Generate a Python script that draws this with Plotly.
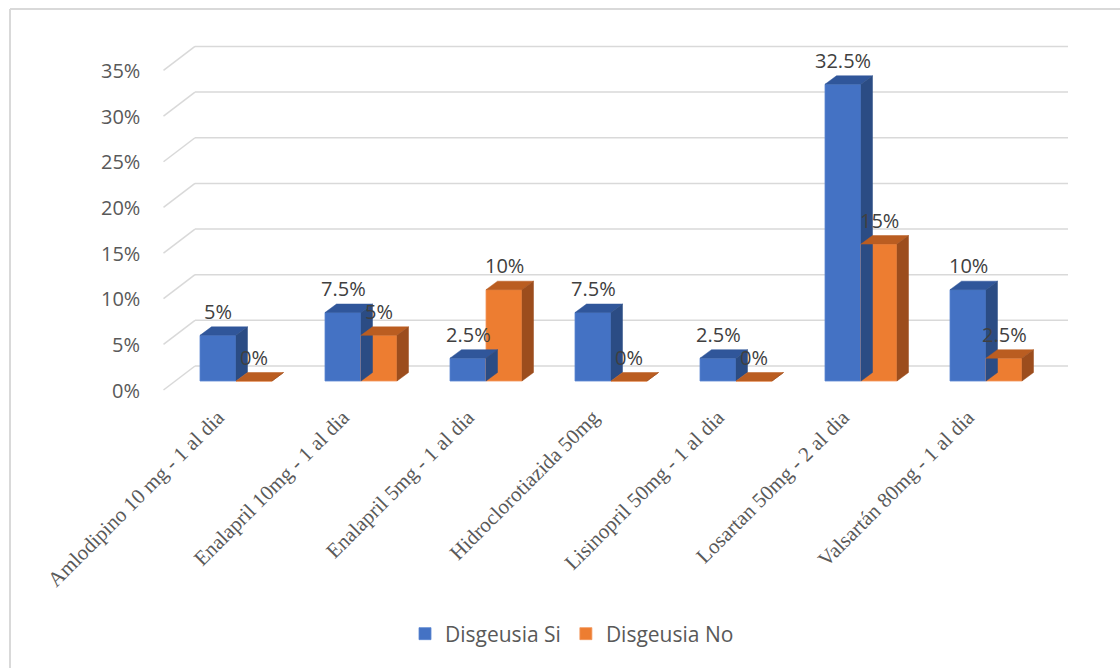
import plotly.graph_objects as go

# ---- data ----
categories = [
    "Amlodipino 10 mg - 1 al dia",
    "Enalapril 10mg - 1 al dia",
    "Enalapril 5mg - 1 al dia",
    "Hidroclorotiazida 50mg",
    "Lisinopril 50mg - 1 al dia",
    "Losartan 50mg - 2 al dia",
    "Valsartán 80mg - 1 al dia",
]
disgeusia_si = [5, 7.5, 2.5, 7.5, 2.5, 32.5, 10]
disgeusia_no = [0, 5, 10, 0, 0, 15, 2.5]
series_names = ["Disgeusia Si", "Disgeusia No"]
y_ticks = [0, 5, 10, 15, 20, 25, 30, 35]

# ---- page geometry (pixels) ----
W, H = 1120, 668
CAT0_PX = 236.0      # x of first category centre
CAT_PX = 125.0       # pixels between categories
BASE_PX = 381.0      # y of bar front baseline
PX_PER_PCT = 9.13    # vertical pixels per percentage point
BAR_PX = 36.0        # width of one bar face

def ux(px):  # horizontal pixels -> x data units
    return px / CAT_PX

def uy(px):  # vertical pixels (up) -> y data units
    return px / PX_PER_PCT

x_range = [-CAT0_PX / CAT_PX, (W - CAT0_PX) / CAT_PX]
y_range = [(BASE_PX - H) / PX_PER_PCT, BASE_PX / PX_PER_PCT]

bar_w = ux(BAR_PX)
bar_dx, bar_dy = ux(11.5), uy(8.5)          # bar depth
front_dy = uy(-9.0)                         # wall front edge vs bar baseline
back_dy = uy(15.0)                          # wall back plane vs bar baseline
wall_front_x = ux(163.5 - CAT0_PX)
wall_back_x = ux(195.0 - CAT0_PX)
grid_right = ux(1068 - CAT0_PX)

face_colors = {
    "Disgeusia Si": dict(front="#4472C4", top="#30569A", side="#2B4C84", edge="#5A86D2"),
    "Disgeusia No": dict(front="#ED7D31", top="#BA5D21", side="#9C4D1D", edge="#F2955A"),
}

text_col = "#595959"
label_font = dict(family="Open Sans, Calibri, sans-serif", size=20, color=text_col)

fig = go.Figure()

shapes = []
annotations = []

# back wall gridlines with their depth diagonals
for t in y_ticks:
    yf = t + front_dy
    yb = t + back_dy
    shapes.append(dict(type="line", xref="x", yref="y", x0=wall_front_x, y0=yf,
                       x1=wall_back_x, y1=yb,
                       line=dict(color="#D9D9D9", width=1.5), layer="below"))
    shapes.append(dict(type="line", xref="x", yref="y", x0=wall_back_x, y0=yb,
                       x1=grid_right, y1=yb,
                       line=dict(color="#D9D9D9", width=1.5), layer="below"))
    annotations.append(dict(x=wall_front_x - ux(22), y=yf, xref="x", yref="y",
                            text=f"{t}%", showarrow=False, xanchor="right",
                            yanchor="middle", font=label_font))

x_idx = list(range(len(categories)))

for k, (name, vals) in enumerate(zip(series_names, [disgeusia_si, disgeusia_no])):
    col = face_colors[name]
    lefts = [i - bar_w + k * bar_w for i in x_idx]

    # front faces
    fig.add_trace(go.Bar(
        x=x_idx, y=vals, name=name, width=bar_w, offset=-bar_w + k * bar_w,
        marker=dict(color=col["front"], line=dict(color=col["edge"], width=0.8)),
        hoverinfo="skip",
    ))

    # top faces
    tx, ty = [], []
    for L, v in zip(lefts, vals):
        R = L + bar_w
        tx += [L, R, R + bar_dx, L + bar_dx, L, None]
        ty += [v, v, v + bar_dy, v + bar_dy, v, None]
    fig.add_trace(go.Scatter(x=tx, y=ty, mode="lines", fill="toself", fillcolor=col["top"],
                             line=dict(color=col["top"], width=0.5), showlegend=False,
                             hoverinfo="skip"))

    # side faces
    sx, sy = [], []
    for L, v in zip(lefts, vals):
        R = L + bar_w
        sx += [R, R + bar_dx, R + bar_dx, R, R, None]
        sy += [0, bar_dy, v + bar_dy, v, 0, None]
    fig.add_trace(go.Scatter(x=sx, y=sy, mode="lines", fill="toself", fillcolor=col["side"],
                             line=dict(color=col["side"], width=0.5), showlegend=False,
                             hoverinfo="skip"))

    # value labels
    for L, v in zip(lefts, vals):
        annotations.append(dict(x=L + bar_w / 2, y=v, xref="x", yref="y",
                                text=f"{v:g}%", showarrow=False, yshift=24,
                                xanchor="center", yanchor="middle",
                                font=dict(family="Open Sans, Calibri, sans-serif",
                                          size=20, color="#404040")))

# outer frame (left and top edges)
shapes.append(dict(type="line", xref="paper", yref="paper", x0=10 / W, y0=1 - 9 / H,
                   x1=1.02, y1=1 - 9 / H, line=dict(color="#D9D9D9", width=2)))
shapes.append(dict(type="line", xref="paper", yref="paper", x0=10 / W, y0=1 - 9 / H,
                   x1=10 / W, y1=-0.05, line=dict(color="#D9D9D9", width=2)))

fig.update_layout(
    width=W, height=H,
    margin=dict(l=0, r=0, t=0, b=0),
    paper_bgcolor="white", plot_bgcolor="white",
    barmode="overlay",
    shapes=shapes, annotations=annotations,
    showlegend=True,
    legend=dict(orientation="h", x=0.5 + 12 / W, xanchor="center", y=1 - 634 / H,
                yanchor="middle",
                font=dict(family="Open Sans, Calibri, sans-serif", size=21, color=text_col),
                itemclick=False, itemdoubleclick=False),
    xaxis=dict(range=x_range, tickvals=x_idx, ticktext=categories, tickangle=-45,
               showgrid=False, zeroline=False, showline=False, ticks="",
               anchor="free", position=1 - 400 / H, ticklabelshift=-18,
               tickfont=dict(family="Liberation Serif, Times New Roman, serif",
                             size=21, color=text_col),
               fixedrange=True),
    yaxis=dict(range=y_range, showgrid=False, zeroline=False, showticklabels=False,
               showline=False, fixedrange=True, domain=[0, 1]),
)

fig.write_html("out.html")
